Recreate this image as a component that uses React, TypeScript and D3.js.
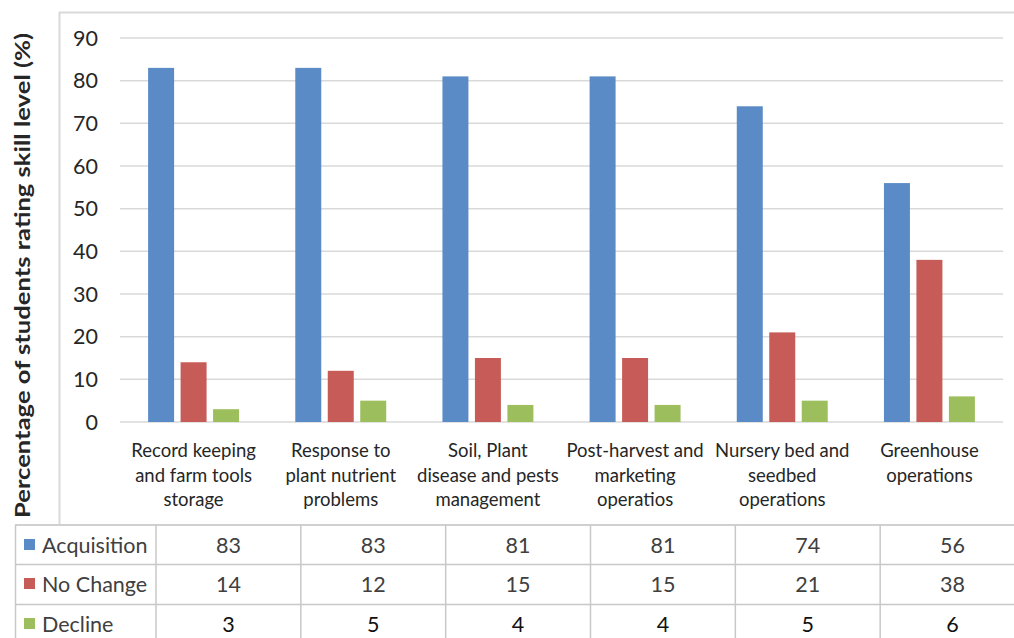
import React from "react";
import * as d3 from "d3";

const categories = [
  ["Record keeping", "and farm tools", "storage"],
  ["Response to", "plant nutrient", "problems"],
  ["Soil, Plant", "disease and pests", "management"],
  ["Post-harvest and", "marketing", "operatios"],
  ["Nursery bed and", "seedbed", "operations"],
  ["Greenhouse", "operations"],
];
const seriesNames = ["Acquisition", "No Change", "Decline"];
const acquisition = [83, 83, 81, 81, 74, 56];
const noChange = [14, 12, 15, 15, 21, 38];
const decline = [3, 5, 4, 4, 5, 6];
const yTicks = [0, 10, 20, 30, 40, 50, 60, 70, 80, 90];
const colors = ["#5B8BC6", "#C65B58", "#9DBE5C"];

const W = 1014;
const H = 638;
const FONT = "Lato, 'Open Sans', sans-serif";

export default function App() {
  const series = [acquisition, noChange, decline];
  const catIdx = categories.map((_, i) => i);
  const x0 = d3.scaleBand<number>().domain(catIdx).range([120, 1003]).paddingInner(0);
  const groupW = x0.bandwidth() * 0.618;
  const x1 = d3.scaleBand<number>().domain([0, 1, 2]).range([0, groupW]).paddingInner(0.2);
  const y = d3.scaleLinear().domain([0, 90]).range([422, 38]);

  const tableCols = d3.scaleBand<number>().domain(catIdx).range([156, 1025]);
  const rowTops = [525, 564, 604, 644];

  return (
    <svg
      width={W}
      height={H}
      style={{ position: "absolute", left: 0, top: 0, background: "#fff" }}
      fontFamily={FONT}
    >
      <rect x={0} y={0} width={W} height={H} fill="#fff" />
      <line x1={59} y1={12.5} x2={W} y2={12.5} stroke="#D9D9D9" strokeWidth={2} />
      <line x1={59.5} y1={12} x2={59.5} y2={525} stroke="#D9D9D9" strokeWidth={2} />

      {yTicks.map((t) => (
        <line key={t} x1={120} x2={1003} y1={y(t)} y2={y(t)} stroke="#D9D9D9" strokeWidth={1.5} />
      ))}
      {yTicks.map((t) => (
        <text key={"l" + t} x={98} y={y(t) + 7.5} textAnchor="end" fontSize={21.5} fill="#262626">
          {t}
        </text>
      ))}

      {series.map((vals, s) =>
        vals.map((v, i) => (
          <rect
            key={s + "-" + i}
            x={(x0(i) as number) + (x0.bandwidth() - groupW) / 2 + (x1(s) as number)}
            y={y(v)}
            width={x1.bandwidth()}
            height={y(0) - y(v)}
            fill={colors[s]}
          />
        ))
      )}

      {categories.map((lines, i) => (
        <text
          key={"c" + i}
          x={(x0(i) as number) + x0.bandwidth() / 2}
          y={457}
          textAnchor="middle"
          fontSize={18.5}
          fill="#262626"
        >
          {lines.map((ln, k) => (
            <tspan key={k} x={(x0(i) as number) + x0.bandwidth() / 2} dy={k === 0 ? 0 : 24.5}>
              {ln}
            </tspan>
          ))}
        </text>
      ))}

      <text
        transform={`translate(30,275.5) rotate(-90)`}
        textAnchor="middle"
        fontSize={20.5}
        fontWeight="bold"
        fill="#262626"
        textLength={485}
        lengthAdjust="spacingAndGlyphs"
      >
        Percentage of students rating skill level (%)
      </text>

      <line x1={15} x2={W} y1={525} y2={525} stroke="#D0D0D0" strokeWidth={2} />
      <line x1={15} x2={W} y1={564.5} y2={564.5} stroke="#C8C8C8" strokeWidth={1.5} />
      <line x1={15} x2={W} y1={604.5} y2={604.5} stroke="#C8C8C8" strokeWidth={1.5} />
      <line x1={15.5} x2={15.5} y1={525} y2={H} stroke="#C8C8C8" strokeWidth={1.5} />
      <line x1={156} x2={156} y1={525} y2={H} stroke="#C8C8C8" strokeWidth={1.5} />
      {catIdx.slice(1).map((i) => (
        <line
          key={"v" + i}
          x1={tableCols(i) as number}
          x2={tableCols(i) as number}
          y1={525}
          y2={H}
          stroke="#C8C8C8"
          strokeWidth={1.5}
        />
      ))}
      {seriesNames.map((name, s) => (
        <g key={"row" + s}>
          <rect x={24} y={rowTops[s] + 14} width={11} height={11} fill={colors[s]} />
          <text x={42} y={rowTops[s] + 28} fontSize={21.5} fill="#404040">
            {name}
          </text>
          {series[s].map((v, i) => (
            <text
              key={i}
              x={(tableCols(i) as number) + tableCols.bandwidth() / 2}
              y={rowTops[s] + 28}
              textAnchor="middle"
              fontSize={21.5}
              fill={s === 2 ? "#111" : "#404040"}
            >
              {v}
            </text>
          ))}
        </g>
      ))}
    </svg>
  );
}
